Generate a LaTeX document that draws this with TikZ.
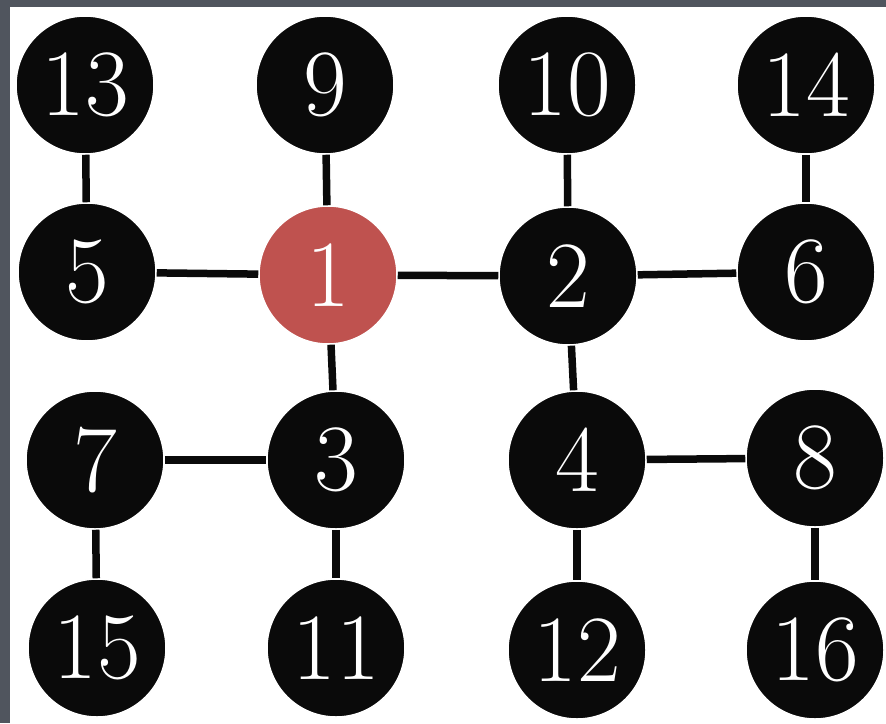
\documentclass[tikz,border=0pt]{standalone}
\usepackage{fontspec}
\definecolor{frame}{HTML}{50555E}
\definecolor{nodeblack}{HTML}{0A0A0A}
\definecolor{nodered}{HTML}{BF524F}
\begin{document}
\begin{tikzpicture}[x=1pt,y=-1pt,
  vtx/.style={circle,fill=nodeblack,draw=white,line width=1.5pt,minimum size=138pt,inner sep=0pt,text=white,font=\fontsize{95}{95}\selectfont},
  redvtx/.style={vtx,fill=nodered},
  edge/.style={line width=7.5pt,draw=nodeblack}]
\fill[frame] (0,0) rectangle (886,723);
\fill[white] (10,7) rectangle (886,723);
\useasboundingbox (0,0) rectangle (886,723);
% row 1
\node[vtx] (n13) at (85,85) {13};
\node[vtx] (n9) at (325,85) {9};
\node[vtx] (n10) at (567,85) {10};
\node[vtx] (n14) at (806,85) {14};
% row 2
\node[vtx] (n5) at (87,272) {5};
\node[redvtx] (n1) at (328,275) {1};
\node[vtx] (n2) at (568,276) {2};
\node[vtx] (n6) at (806,272) {6};
% row 3
\node[vtx] (n7) at (95,460) {7};
\node[vtx] (n3) at (336,460) {3};
\node[vtx] (n4) at (577,460) {4};
\node[vtx] (n8) at (815,458) {8};
% row 4
\node[vtx] (n15) at (97,648) {15};
\node[vtx] (n11) at (336,648) {11};
\node[vtx] (n12) at (577,650) {12};
\node[vtx] (n16) at (815,650) {16};
% edges
\draw[edge] (n13) -- (n5);
\draw[edge] (n9) -- (n1);
\draw[edge] (n10) -- (n2);
\draw[edge] (n14) -- (n6);
\draw[edge] (n5) -- (n1);
\draw[edge] (n1) -- (n2);
\draw[edge] (n2) -- (n6);
\draw[edge] (n1) -- (n3);
\draw[edge] (n2) -- (n4);
\draw[edge] (n7) -- (n3);
\draw[edge] (n4) -- (n8);
\draw[edge] (n7) -- (n15);
\draw[edge] (n3) -- (n11);
\draw[edge] (n4) -- (n12);
\draw[edge] (n8) -- (n16);
\end{tikzpicture}
\end{document}
